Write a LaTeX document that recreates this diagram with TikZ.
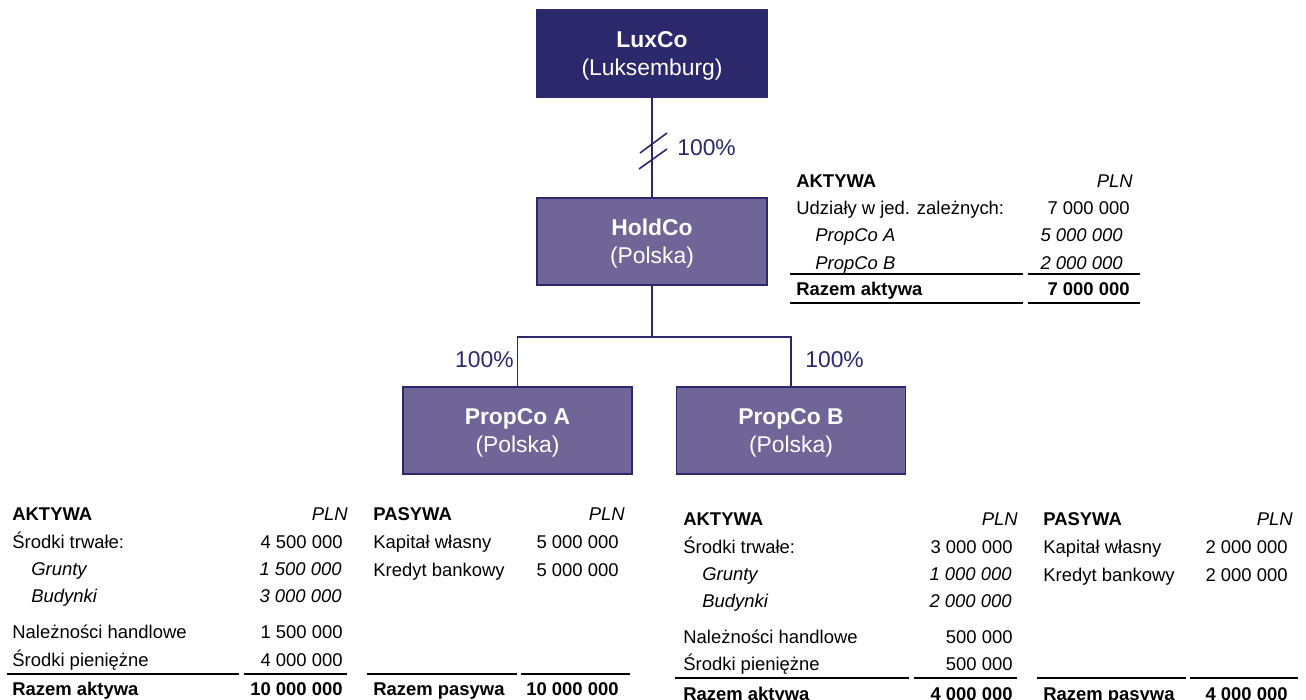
\documentclass[tikz,border=0pt]{standalone}
\usepackage{fontspec}
\setmainfont{Liberation Sans}
\usetikzlibrary{calc}

\definecolor{navy}{RGB}{43,40,107}
\definecolor{lila}{RGB}{111,101,150}

\begin{document}
\begin{tikzpicture}[x=0.02cm, y=-0.02cm,
	firm/.style={fill=lila, draw=navy, line width=0.6pt, text=white, align=center, text depth=0pt,
		minimum width=4.6cm, minimum height=1.74cm, font=\fontsize{13}{16}\selectfont},
	share/.style={text=navy, inner sep=0pt, font=\fontsize{13}{15}\selectfont},
	link/.style={draw=navy, line width=0.9pt},
	txt/.style={inner sep=0pt, text height=9pt, text depth=1.5pt, font=\fontsize{10.5}{12}\selectfont},
	lft/.style={txt, anchor=west},
	rgt/.style={txt, anchor=east},
	ital/.style={font=\fontsize{10.5}{12}\selectfont\itshape},
	bld/.style={font=\fontsize{10.5}{12}\selectfont\bfseries},
	rule/.style={draw=black, line width=0.6pt}]
	
	\useasboundingbox (0,0) rectangle (1306,700);
	
	\node[firm, fill=navy] (lux) at (652,53.5) {\textbf{LuxCo}\\(Luksemburg)};
	
	\node[firm] (hold) at (652,241.5) {\textbf{HoldCo}\\(Polska)};
	
	\node[firm, minimum width=4.58cm] (pa) at (517.5,430.5) {\textbf{PropCo A}\\(Polska)};
	
	\node[firm, minimum width=4.58cm] (pb) at (791,430.5) {\textbf{PropCo B}\\(Polska)};
	
	\coordinate (split) at (652,337);
	
	\node[share, anchor=west] (s) at (677,148) {100\%};
	\node[share, anchor=east] (sa) at (514,360) {100\%};
	\node[share, anchor=west] (sb) at (805,360) {100\%};
	
	\draw[link] (lux) -- (hold);
	\draw[link] (hold) -- (split);
	\draw[link] (split) -| (pa);
	\draw[link] (split) -| (pb);
	\draw[link] (640,153) -- (667,133);
	\draw[link] (639,169) -- (667,149);
	
	% HoldCo
	\node[lft, bld] (h0) at (796,181) {AKTYWA};
	\node[rgt, ital] (hc) at (1133,181) {PLN};
	\node[lft] (h1) at (796,208) {Udziały w jed. zależnych:};
	\node[rgt] (hv1) at (1130,208) {7 000 000};
	\node[lft, ital] (h2) at (815,235) {PropCo A};
	\node[rgt, ital] (hv2) at (1123,235) {5 000 000};
	\node[lft, ital] (h3) at (815,263) {PropCo B};
	\node[rgt, ital] (hv3) at (1123,263) {2 000 000};
	\node[lft, bld] (h4) at (796,289) {Razem aktywa};
	\node[rgt, bld] (hv4) at (1130,289) {7 000 000};
	\draw[rule] (790,274) -- (1023,274) (1028,274) -- (1140,274);
	\draw[rule] (790,303) -- (1023,303) (1028,303) -- (1140,303);
	
	% PropCo A
	\node[lft, bld] (a0) at (12,514) {AKTYWA};
	\node[rgt, ital] (ac) at (348,514) {PLN};
	\foreach \i/\y/\t/\v in {1/542/Środki trwałe:/4 500 000, 4/632/Należności handlowe/1 500 000, 5/660/Środki pieniężne/4 000 000}{
		\node[lft] (a\i) at (12,\y) {\t};
		\node[rgt] (av\i) at (343,\y) {\v};
	}
	\foreach \i/\y/\t/\v in {2/569/Grunty/1 500 000, 3/596/Budynki/3 000 000}{
		\node[lft, ital] (a\i) at (31,\y) {\t};
		\node[rgt, ital] (av\i) at (342,\y) {\v};
	}
	\node[lft, bld] (a6) at (12,689) {Razem aktywa};
	\node[rgt, bld] (av6) at (343,689) {10 000 000};
	
	\node[lft, bld] (p0) at (373,514) {PASYWA};
	\node[rgt, ital] (pc) at (625,514) {PLN};
	\node[lft] (p1) at (373,542) {Kapitał własny};
	\node[rgt] (pv1) at (619,542) {5 000 000};
	\node[lft] (p2) at (373,570) {Kredyt bankowy};
	\node[rgt] (pv2) at (619,570) {5 000 000};
	\node[lft, bld] (p3) at (373,689) {Razem pasywa};
	\node[rgt, bld] (pv3) at (619,689) {10 000 000};
	\draw[rule] (7,674) -- (239,674) (244,674) -- (347,674);
	\draw[rule] (367,674) -- (517,674) (521,674) -- (630,674);
	
	% PropCo B
	\node[lft, bld] (b0) at (683,519) {AKTYWA};
	\node[rgt, ital] (bc) at (1018,519) {PLN};
	\foreach \i/\y/\t/\v in {1/547/Środki trwałe:/3 000 000, 4/637/Należności handlowe/500 000, 5/664/Środki pieniężne/500 000}{
		\node[lft] (b\i) at (683,\y) {\t};
		\node[rgt] (bv\i) at (1013,\y) {\v};
	}
	\foreach \i/\y/\t/\v in {2/574/Grunty/1 000 000, 3/601/Budynki/2 000 000}{
		\node[lft, ital] (b\i) at (702,\y) {\t};
		\node[rgt, ital] (bv\i) at (1012,\y) {\v};
	}
	\node[lft, bld] (b6) at (683,694) {Razem aktywa};
	\node[rgt, bld] (bv6) at (1013,694) {4 000 000};
	
	\node[lft, bld] (q0) at (1043,519) {PASYWA};
	\node[rgt, ital] (qc) at (1293,519) {PLN};
	\node[lft] (q1) at (1043,547) {Kapitał własny};
	\node[rgt] (qv1) at (1288,547) {2 000 000};
	\node[lft] (q2) at (1043,575) {Kredyt bankowy};
	\node[rgt] (qv2) at (1288,575) {2 000 000};
	\node[lft, bld] (q3) at (1043,694) {Razem pasywa};
	\node[rgt, bld] (qv3) at (1288,694) {4 000 000};
	\draw[rule] (675,678) -- (909,678) (914,678) -- (1017,678);
	\draw[rule] (1037,678) -- (1186,678) (1190,678) -- (1298,678);
	
\end{tikzpicture}
\end{document}
